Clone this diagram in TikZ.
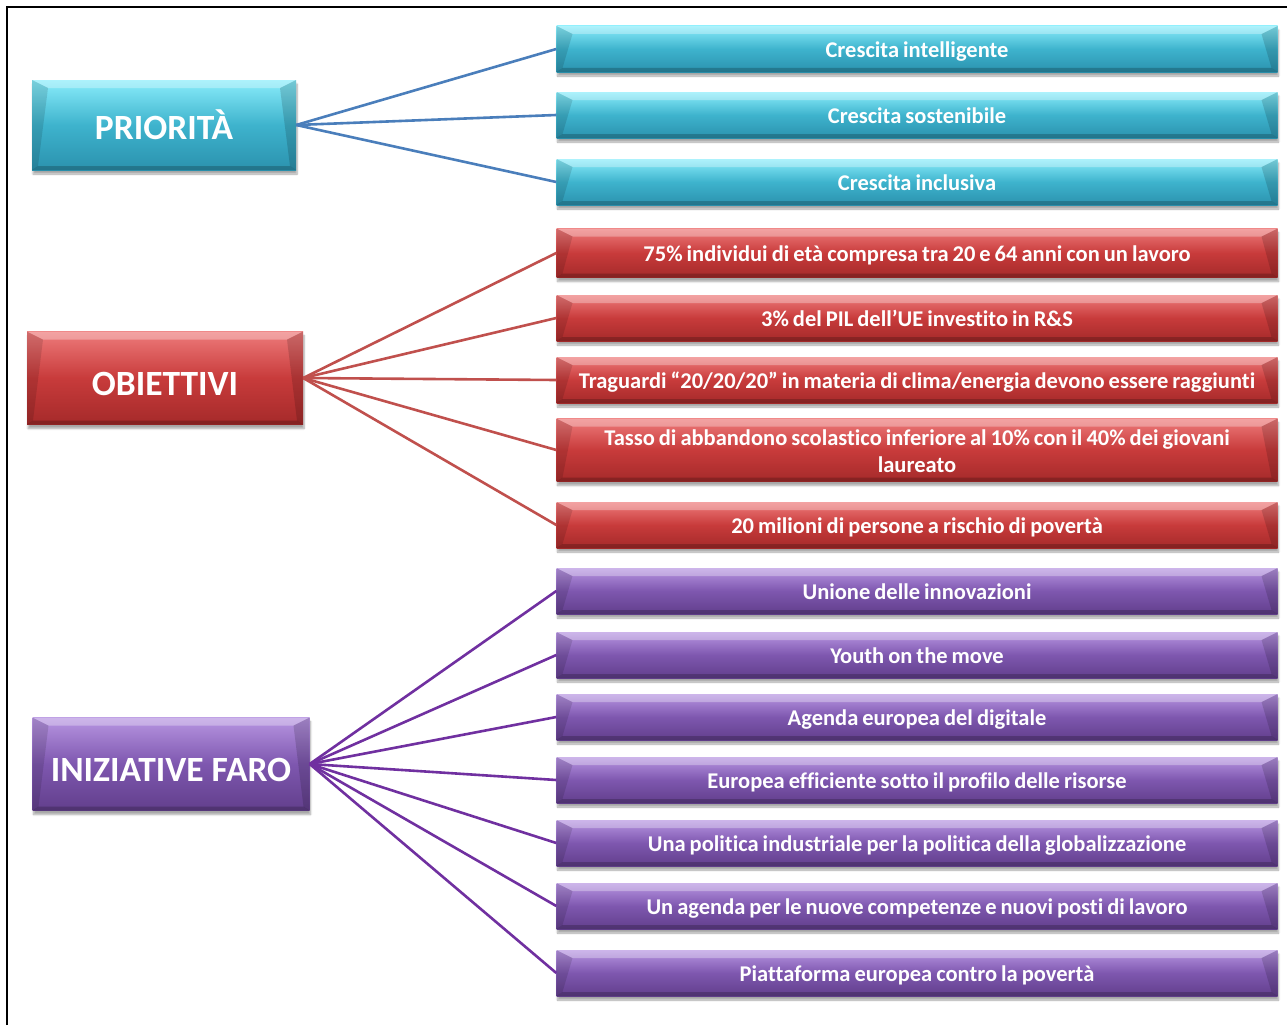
\documentclass[tikz,border=0pt]{standalone}
\usepackage{fontspec}
\setmainfont{Carlito}[Ligatures=NoCommon]
\usetikzlibrary{shadows.blur}

\definecolor{bluTop}{HTML}{8AEDFB}
\definecolor{bluMid}{HTML}{3EB3CD}
\definecolor{bluBot}{HTML}{2B92AE}
\definecolor{redTop}{HTML}{EE7B7B}
\definecolor{redMid}{HTML}{C83B3B}
\definecolor{redBot}{HTML}{A52A2A}
\definecolor{purTop}{HTML}{B896E2}
\definecolor{purMid}{HTML}{7E57AF}
\definecolor{purBot}{HTML}{623F8C}
\definecolor{bluLine}{HTML}{4A7EBB}
\definecolor{redLine}{HTML}{C0504D}
\definecolor{purLine}{HTML}{7030A0}

\newcommand\tightspace{\spaceskip=4pt plus 1pt minus 1pt\relax}
\newcommand\lowered[1]{\raisebox{-6pt}[\height][\depth]{#1}}

\tikzset{
  bevel/.style={path picture={
      \fill[white,opacity=0.3] (path picture bounding box.north west) -- (path picture bounding box.north east)
        -- ([xshift=-16pt,yshift=-8pt]path picture bounding box.north east) -- ([xshift=16pt,yshift=-8pt]path picture bounding box.north west) -- cycle;
      \fill[black,opacity=0.12] (path picture bounding box.north west) -- ([xshift=16pt,yshift=-8pt]path picture bounding box.north west)
        -- ([xshift=6pt,yshift=4pt]path picture bounding box.south west) -- (path picture bounding box.south west) -- cycle;
      \fill[black,opacity=0.15] (path picture bounding box.north east) -- ([xshift=-16pt,yshift=-8pt]path picture bounding box.north east)
        -- ([xshift=-6pt,yshift=4pt]path picture bounding box.south east) -- (path picture bounding box.south east) -- cycle;
      \fill[black,opacity=0.2] (path picture bounding box.south west) -- ([xshift=6pt,yshift=4pt]path picture bounding box.south west)
        -- ([xshift=-6pt,yshift=4pt]path picture bounding box.south east) -- (path picture bounding box.south east) -- cycle;
    }},
  box/.style={rectangle, inner sep=0pt, text=white, align=flush center, bevel,
    blur shadow={shadow xshift=1pt, shadow yshift=-4pt, shadow blur steps=6, shadow opacity=35}},
  bigbox/.style={box, font=\bfseries\fontsize{35.5}{40}\selectfont},
  smallbox/.style={box, minimum width=721pt, minimum height=46pt, text width=710pt,
    text height=22pt, text depth=5pt,
    font=\bfseries\fontsize{22.5}{27}\selectfont\tightspace},
  blu/.style={top color=bluTop, bottom color=bluBot, middle color=bluMid},
  rosso/.style={top color=redTop, bottom color=redBot, middle color=redMid},
  viola/.style={top color=purTop, bottom color=purBot, middle color=purMid},
  link/.style={line width=2.6pt}
}

\begin{document}
\begin{tikzpicture}[x=1pt, y=-1pt]
  \useasboundingbox (0,0) rectangle (1287,1025);
  \draw[line width=1.6pt] (7,1025) -- (7,7) -- (1287,7);

  % priorita
  \node[bigbox, blu, minimum width=264pt, minimum height=90pt] (pri) at (164,125) {PRIORITÀ};
  \node[smallbox, blu] (p1) at (917,49) {Crescita intelligente};
  \node[smallbox, blu] (p2) at (917,115) {Crescita sostenibile};
  \node[smallbox, blu] (p3) at (917,182) {Crescita inclusiva};

  % obiettivi
  \node[bigbox, rosso, minimum width=276pt, minimum height=93pt] (obi) at (165,378) {\lowered{OBIETTIVI}};
  \node[smallbox, rosso, minimum height=49pt] (o1) at (917,253) {75\% individui di età compresa tra 20 e 64 anni con un lavoro};
  \node[smallbox, rosso] (o2) at (917,318) {3\% del PIL dell’UE investito in R\&S};
  \node[smallbox, rosso] (o3) at (917,380) {Traguardi “20/20/20” in materia di clima/energia devono essere raggiunti};
  \node[smallbox, rosso, minimum height=63pt, text height=21pt, text depth=31pt] (o4) at (917,450) {Tasso di abbandono scolastico inferiore al 10\% con il 40\% dei giovani\\laureato};
  \node[smallbox, rosso] (o5) at (917,525) {20 milioni di persone a rischio di povertà};

  % iniziative faro
  \node[bigbox, viola, minimum width=277pt, minimum height=93pt] (ini) at (171,764) {\lowered{INIZIATIVE FARO}};
  \node[smallbox, viola] (f1) at (917,591) {Unione delle innovazioni};
  \node[smallbox, viola] (f2) at (917,655) {Youth on the move};
  \node[smallbox, viola] (f3) at (917,717) {Agenda europea del digitale};
  \node[smallbox, viola] (f4) at (917,780) {Europea efficiente sotto il profilo delle risorse};
  \node[smallbox, viola] (f5) at (917,843) {Una politica industriale per la politica della globalizzazione};
  \node[smallbox, viola] (f6) at (917,906) {Un agenda per le nuove competenze e nuovi posti di lavoro};
  \node[smallbox, viola] (f7) at (917,973) {Piattaforma europea contro la povertà};

  \draw[link, bluLine] (pri.east) -- (p1.west);
  \draw[link, bluLine] (pri.east) -- (p2.west);
  \draw[link, bluLine] (pri.east) -- (p3.west);

  \draw[link, redLine] (obi.east) -- (o1.west);
  \draw[link, redLine] (obi.east) -- (o2.west);
  \draw[link, redLine] (obi.east) -- (o3.west);
  \draw[link, redLine] (obi.east) -- (o4.west);
  \draw[link, redLine] (obi.east) -- (o5.west);

  \draw[link, purLine] (ini.east) -- (f1.west);
  \draw[link, purLine] (ini.east) -- (f2.west);
  \draw[link, purLine] (ini.east) -- (f3.west);
  \draw[link, purLine] (ini.east) -- (f4.west);
  \draw[link, purLine] (ini.east) -- (f5.west);
  \draw[link, purLine] (ini.east) -- (f6.west);
  \draw[link, purLine] (ini.east) -- (f7.west);
\end{tikzpicture}
\end{document}
